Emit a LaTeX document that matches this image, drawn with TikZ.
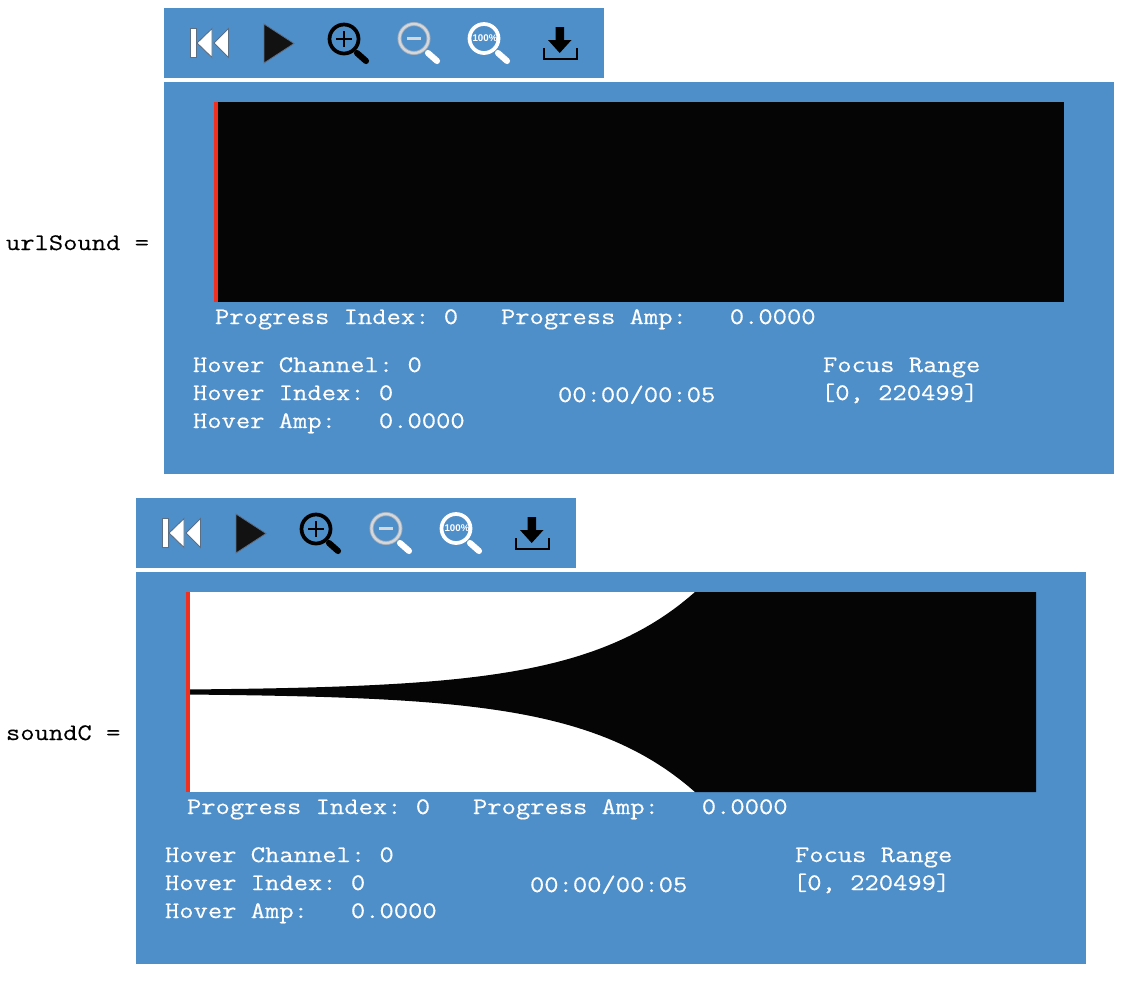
\documentclass[tikz,border=0pt]{standalone}
\usepackage{fontspec}
\setmainfont{Liberation Sans}
\newfontfamily\uifont[FakeStretch=1.17,FakeBold=0.4]{Latin Modern Mono}
\newfontfamily\lblfont[FakeStretch=1.17,FakeBold=0.15]{Latin Modern Mono}
\definecolor{panelblue}{HTML}{4F8FC9}
\definecolor{cursorred}{HTML}{F03020}
\definecolor{iconedge}{HTML}{5A6E85}
\definecolor{icongrey}{HTML}{D4D8DC}
\tikzset{
  panel/.style={fill=panelblue,draw=none},
  uitext/.style={anchor=base west,inner sep=0pt,outer sep=0pt,text=white,font=\uifont\fontsize{17.8pt}{20pt}\selectfont},
  lbltext/.style={anchor=base west,inner sep=0pt,outer sep=0pt,text=black,font=\lblfont\fontsize{17.8pt}{20pt}\selectfont},
  handle/.style={line width=4.6pt,line cap=round},
  lens/.style={line width=2.8pt},
}
% #1 prefix, #2 y shift, #3 x shift, #4 wave content
\newcommand{\wavepanel}[4]{%
\begin{scope}[shift={(#3,#2)}]
  \fill[panel] (164,8) rectangle (604,78);
  \fill[panel] (164,82) rectangle (1114,474);
  % rewind
  \filldraw[fill=white,draw=iconedge,line width=.7pt] (190,28.5) rectangle (196,57.5);
  \filldraw[fill=white,draw=iconedge,line width=.7pt] (197,43) -- (212,28.5) -- (212,57.5) -- cycle;
  \filldraw[fill=white,draw=iconedge,line width=.7pt] (214,43) -- (228.5,28.5) -- (228.5,57.5) -- cycle;
  % play
  \filldraw[fill=black!93,draw=iconedge,line width=.6pt] (264,24) -- (294,43.5) -- (264,63) -- cycle;
  % zoom in
  \draw[lens,black] (344,39) circle[radius=14.5];
  \draw[black,line width=2.2pt] (336,39) -- (352,39) (344,31) -- (344,47);
  \draw[handle,black] (357,53) -- (366,61);
  % zoom out
  \draw[line width=3pt,iconedge!55!white] (414,38.5) circle[radius=14.5];
  \draw[line width=1.7pt,icongrey] (414,38.5) circle[radius=14.5];
  \draw[icongrey,line width=2.6pt] (407,38.5) -- (421,38.5);
  \draw[handle,white] (428,53) -- (437,61);
  % zoom 100
  \draw[lens,white] (484,38.5) circle[radius=14.5];
  \node[text=white,font=\fontsize{7.3pt}{8pt}\bfseries\selectfont,inner sep=0pt] (#1pct) at (485,38) {100\%};
  \draw[handle,white] (498,53) -- (507,61);
  % download
  \fill[black] (555.5,27) -- (564,27) -- (564,40) -- (571.5,40) -- (559.7,53) -- (548,40) -- (555.5,40) -- cycle;
  \draw[black,line width=1.3pt] (544,48) -- (544,59) -- (577,59) -- (577,48);
  % wave
  #4
  \fill[cursorred] (214,102) rectangle (218,302);
  % texts
  \node[uitext] (#1prog) at (215,324) {Progress~Index:~0~~~Progress~Amp:~~~0.0000};
  \node[uitext] (#1chan) at (193,372) {Hover~Channel:~0};
  \node[uitext] (#1idx) at (193,400) {Hover~Index:~0};
  \node[uitext] (#1amp) at (193,428) {Hover~Amp:~~~0.0000};
  \node[uitext] (#1time) at (558,402) {00:00/00:05};
  \node[uitext] (#1focus) at (823,372) {Focus~Range};
  \node[uitext] (#1range) at (821,400) {[0,~220499]};
\end{scope}}
\begin{document}
\begin{tikzpicture}[x=0.75pt,y=-0.75pt]
\useasboundingbox (0,0) rectangle (1134,982);
\fill[white] (0,0) rectangle (1134,982);
\node[lbltext] (urllabel) at (6,250) {urlSound~=};
\node[lbltext] (soundlabel) at (6,740) {soundC~=};
\wavepanel{a}{0}{0}{\fill[black!98] (214,102) rectangle (1064,302);}
\wavepanel{b}{490}{-28}{%
  \fill[white] (214,102) rectangle (1064,302);
  \fill[black!98] plot[samples=70,domain=218:723] (\x,{202-(1.5+98.5*exp(.009*(\x-723)))})
    -- (1064,102) -- (1064,302) -- (723,302)
    -- plot[samples=70,domain=723:218] (\x,{202+(1.5+98.5*exp(.009*(\x-723)))}) -- cycle;
}
\end{tikzpicture}
\end{document}
